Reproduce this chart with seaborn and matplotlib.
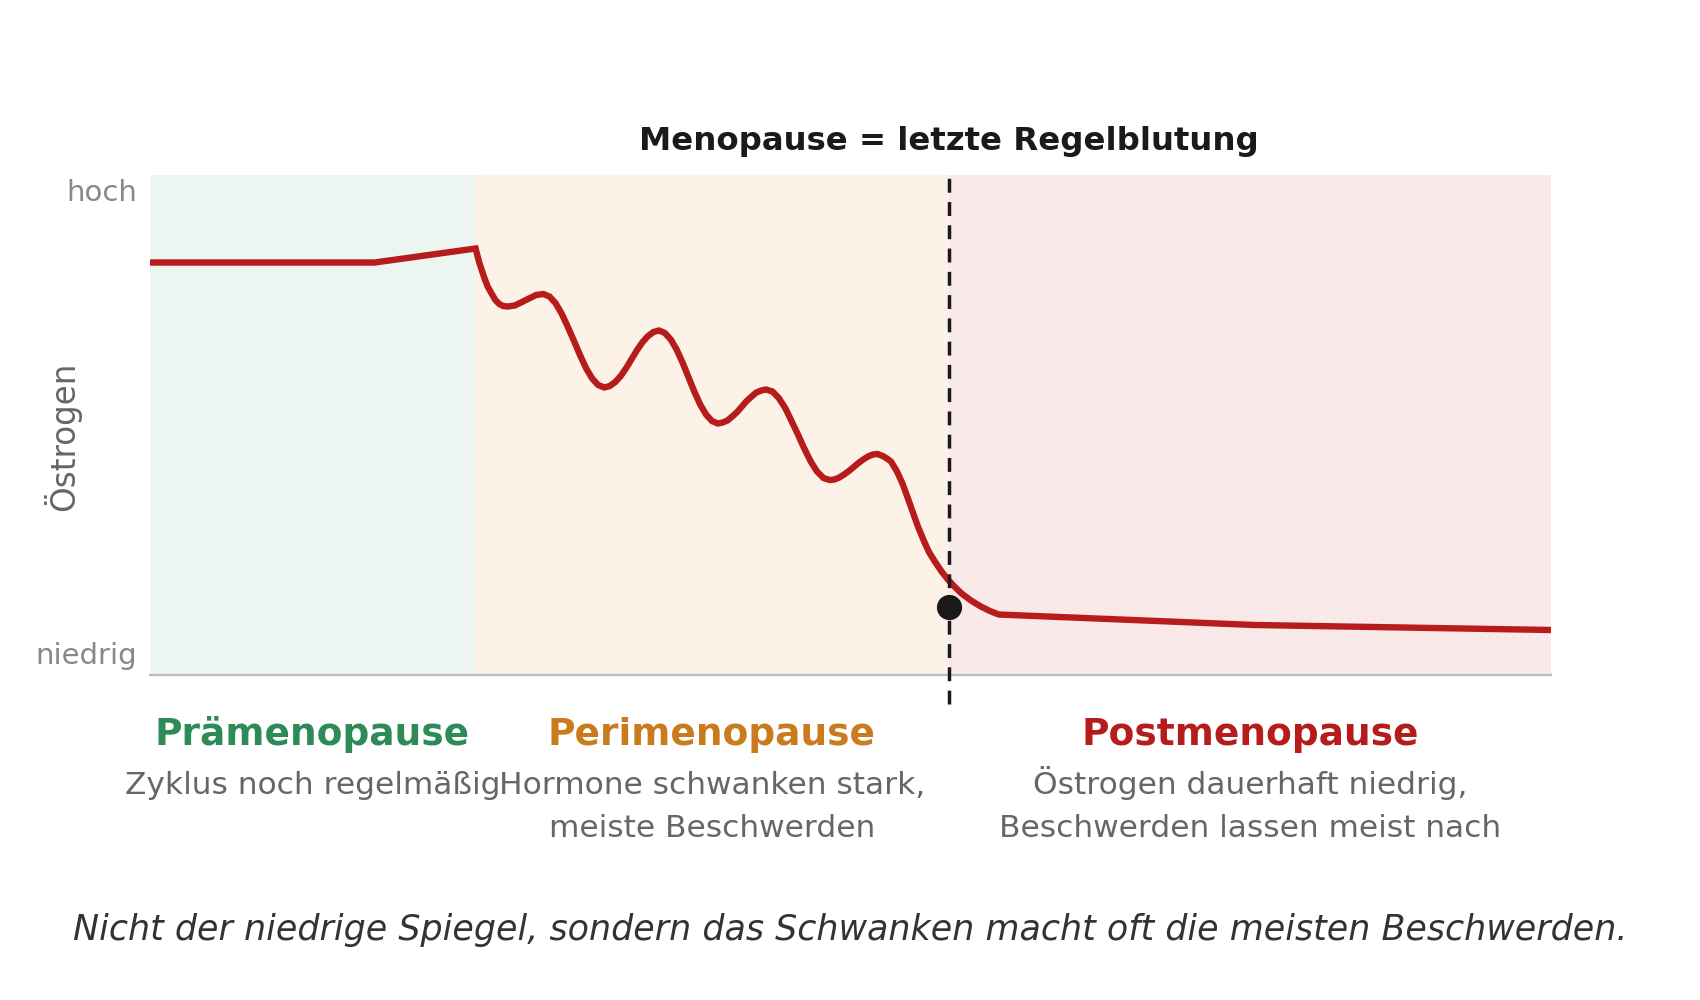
import matplotlib
matplotlib.use("Agg")
import matplotlib.pyplot as plt
import matplotlib.transforms as mtransforms
import seaborn as sns
import pandas as pd

# Zeitachse ohne Einheit (0 = links, 100 = rechts)
zeit = [0, 16.04, 23.24, 23.50, 23.83, 24.10, 24.38, 24.65, 24.93, 25.20, 25.53,
        26.04, 26.55, 27.05, 27.56, 28.07,
        28.51, 28.94, 29.38, 29.81, 30.25, 30.69, 31.12, 31.56, 31.99, 32.43,
        32.82, 33.21, 33.60, 33.99, 34.38, 34.77, 35.16, 35.55, 35.94, 36.33,
        36.75, 37.17, 37.59, 38.01, 38.43, 38.85, 39.27, 39.69, 40.11, 40.53,
        40.87, 41.22, 41.56, 41.91, 42.25, 42.59, 42.94, 43.28, 43.63, 43.97,
        44.43, 44.88, 45.34, 45.79, 46.25, 46.70, 47.16, 47.61, 48.07, 48.52,
        48.86, 49.20, 49.54, 49.88, 50.23, 50.57, 50.91, 51.25, 51.59, 51.93,
        52.30, 52.60, 52.89, 53.30, 53.71, 54.05, 54.39, 54.80, 55.21, 55.60,
        56.02, 56.50, 56.98, 57.45, 57.93, 58.60, 59.30, 59.95, 60.58,
        78.83, 100]
oestrogen = [0.825, 0.825, 0.853, 0.825, 0.797, 0.777, 0.763, 0.750, 0.742, 0.738, 0.737,
             0.739, 0.746, 0.753, 0.760, 0.762,
             0.757, 0.744, 0.723, 0.697, 0.669, 0.640, 0.614, 0.593, 0.580, 0.575,
             0.578, 0.586, 0.598, 0.614, 0.632, 0.650, 0.666, 0.678, 0.686, 0.689,
             0.684, 0.671, 0.651, 0.625, 0.596, 0.567, 0.541, 0.521, 0.508, 0.503,
             0.505, 0.509, 0.517, 0.526, 0.537, 0.548, 0.557, 0.565, 0.569, 0.571,
             0.567, 0.554, 0.534, 0.508, 0.481, 0.453, 0.427, 0.407, 0.394, 0.390,
             0.391, 0.395, 0.401, 0.408, 0.416, 0.424, 0.431, 0.437, 0.441, 0.442,
             0.438, 0.433, 0.427, 0.408, 0.383, 0.357, 0.330, 0.298, 0.270, 0.246,
             0.227, 0.207, 0.190, 0.176, 0.163, 0.149, 0.137, 0.128, 0.121,
             0.100, 0.090]

phase_grenzen = [0, 23.2, 57.0, 100]
phase_namen = ["Prämenopause", "Perimenopause", "Postmenopause"]
phase_texte = [["Zyklus noch regelmäßig"],
               ["Hormone schwanken stark,", "meiste Beschwerden"],
               ["Östrogen dauerhaft niedrig,", "Beschwerden lassen meist nach"]]
phase_farben = ["#2e8b57", "#c97b1d", "#b71c1c"]
flaechen_farben = ["#ecf5ef", "#fcf2e8", "#f9e9e9"]

menopause_x = 57.0
menopause_y = 0.136

y_ticks = [0.045, 0.97]
y_labels = ["niedrig", "hoch"]

df = pd.DataFrame({"zeit": zeit, "oestrogen": oestrogen})

sns.set_theme(style="white")
plt.rcParams["font.family"] = ["DejaVu Sans"]

fig = plt.figure(figsize=(17, 10), dpi=100)
ax = fig.add_axes([150 / 1700, 0.325, 1401 / 1700, 0.5])

for i in range(3):
    ax.axvspan(phase_grenzen[i], phase_grenzen[i + 1], color=flaechen_farben[i],
               lw=0, zorder=0)

sns.lineplot(data=df, x="zeit", y="oestrogen", ax=ax, color="#b71c1c",
             linewidth=4.6, estimator=None, sort=False, zorder=3)
for line in ax.lines:
    line.set_solid_joinstyle("miter")

ax.axvline(menopause_x, ymin=-0.058, ymax=1.0, color="#1a1a1a", lw=2.5,
           linestyle=(0, (4, 2.7)), clip_on=False, zorder=4)
ax.scatter([menopause_x], [menopause_y], s=330, color="#1a1a1a", zorder=5,
           linewidths=0)

ax.set_xlim(0, 100)
ax.set_ylim(0, 1)
ax.set_xticks([])
ax.set_yticks(y_ticks)
ax.set_yticklabels(y_labels)
ax.tick_params(axis="y", length=0, pad=9, labelsize=21, labelcolor="#888888")
ax.set_xlabel("")
ax.set_ylabel("Östrogen", fontsize=23.5, color="#666666")
ax.yaxis.set_label_coords(-0.049, 0.477)

sns.despine(ax=ax, left=True)
ax.spines["bottom"].set_color("#bbbbbb")
ax.spines["bottom"].set_linewidth(1.6)

trans = mtransforms.blended_transform_factory(ax.transData, ax.transAxes)
ax.text(menopause_x, 1.05, "Menopause = letzte Regelblutung", transform=trans,
        ha="center", va="baseline", fontsize=23.3, fontweight="bold", color="#1a1a1a")

for i in range(3):
    mitte = (phase_grenzen[i] + phase_grenzen[i + 1]) / 2
    ax.text(mitte, -0.14, phase_namen[i], transform=trans, ha="center",
            va="baseline", fontsize=27, fontweight="bold", color=phase_farben[i])
    for k, zeile in enumerate(phase_texte[i]):
        ax.text(mitte, -0.238 - k * 0.086, zeile, transform=trans, ha="center",
                va="baseline", fontsize=22.5, color="#666666")

fig.text(0.5, 0.06, "Nicht der niedrige Spiegel, sondern das Schwanken macht oft die meisten Beschwerden.",
         ha="center", va="baseline", fontsize=25.1, style="italic", color="#333333")

fig.savefig("out.png", dpi=100, facecolor="white")
